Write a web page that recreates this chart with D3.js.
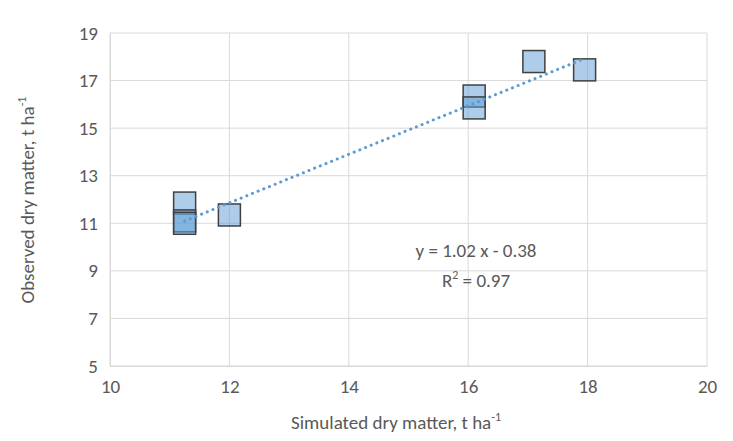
<!DOCTYPE html><html><head><script src="https://cdn.jsdelivr.net/npm/d3@7"></script>
<style>body{margin:0;background:#fff}text{font-family:Carlito,"Open Sans",sans-serif;fill:#595959}</style></head><body>
<svg id="c" width="733" height="441"></svg>
<script>
const simX=[11.25,11.25,11.25,12.0,16.1,16.1,17.1,17.95];
const obsY=[11.85,11.1,11.0,11.35,16.35,15.85,17.8,17.45];
const xTicks=[10,12,14,16,18,20];
const yTicks=[5,7,9,11,13,15,17,19];
const slope=1.02, intercept=-0.38;
const svg=d3.select("#c");
const x=d3.scaleLinear().domain([10,20]).range([110,707]);
const y=d3.scaleLinear().domain([5,19]).range([366,33]);
const g=svg.append("g");
xTicks.forEach(t=>g.append("line").attr("x1",x(t)).attr("x2",x(t)).attr("y1",y(5)).attr("y2",y(19)).attr("stroke","#d9d9d9"));
yTicks.forEach(t=>g.append("line").attr("x1",x(10)).attr("x2",x(20)).attr("y1",y(t)).attr("y2",y(t)).attr("stroke","#d9d9d9"));
const sty=a=>{a.select(".domain").attr("stroke","#d9d9d9");a.selectAll("text").style("font-size","19px").style("font-family","Carlito,'Open Sans',sans-serif").style("fill","#595959");};
svg.append("g").attr("transform","translate(0,366)").call(d3.axisBottom(x).tickValues(xTicks).tickSize(0).tickPadding(14)).call(sty);
svg.append("g").attr("transform","translate(110,0)").call(d3.axisLeft(y).tickValues(yTicks).tickSize(0).tickPadding(12)).call(sty);
const ext=d3.extent(simX);
svg.selectAll("rect.p").data(simX).join("rect").attr("class","p")
 .attr("x",d=>x(d)-11).attr("y",(d,i)=>y(obsY[i])-11).attr("width",22).attr("height",22)
 .attr("fill","rgba(91,155,213,0.5)").attr("stroke","#404040").attr("stroke-width",1.5);
svg.append("line").attr("x1",x(ext[0])).attr("x2",x(ext[1])).attr("y1",y(slope*ext[0]+intercept)).attr("y2",y(slope*ext[1]+intercept))
 .attr("stroke","#5b9bd5").attr("stroke-width",3).attr("stroke-dasharray","0.1 6").attr("stroke-linecap","round");
svg.append("text").attr("x",476).attr("y",257).attr("text-anchor","middle").style("font-size","19px").text("y = 1.02 x - 0.38");
const r=svg.append("text").attr("x",476).attr("y",287).attr("text-anchor","middle").style("font-size","19px");
r.append("tspan").text("R"); r.append("tspan").style("font-size","12px").attr("dy",-8).text("2"); r.append("tspan").attr("dy",8).text(" = 0.97");
const xl=svg.append("text").attr("x",396).attr("y",429).attr("text-anchor","middle").style("font-size","19px");
xl.append("tspan").text("Simulated dry matter, t ha"); xl.append("tspan").style("font-size","12px").attr("dy",-8).text("-1");
const yl=svg.append("text").attr("transform","translate(34,200) rotate(-90)").attr("text-anchor","middle").style("font-size","19px");
yl.append("tspan").text("Observed dry matter, t ha"); yl.append("tspan").style("font-size","12px").attr("dy",-8).text("-1");
</script></body></html>
